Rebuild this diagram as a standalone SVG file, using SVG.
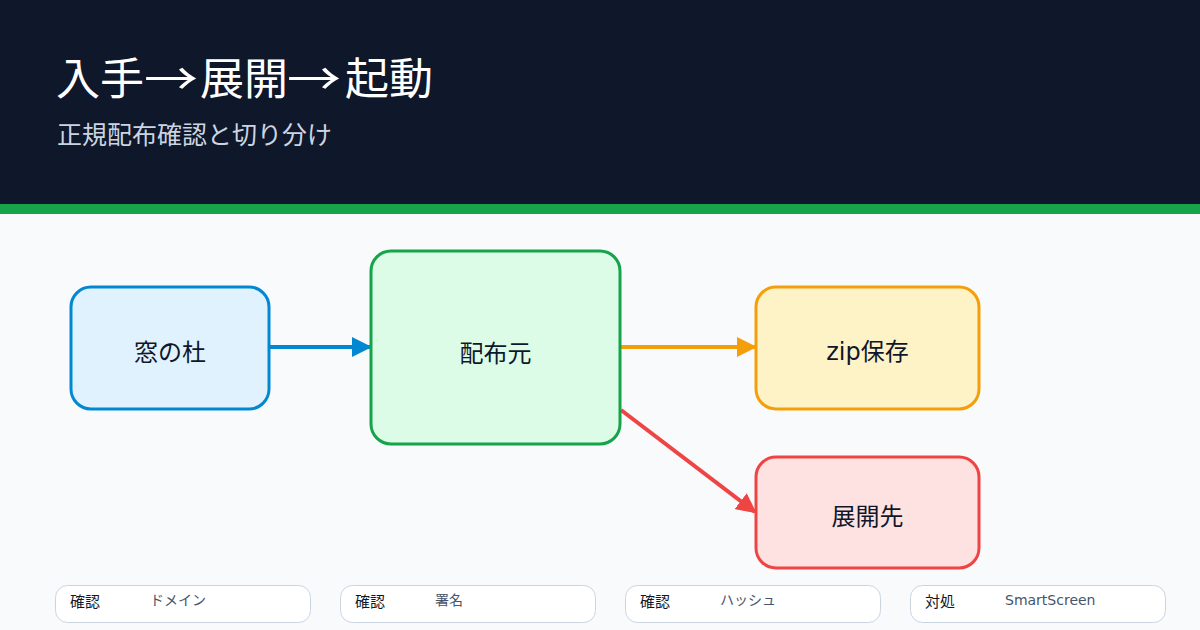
<svg xmlns="http://www.w3.org/2000/svg" width="1200" height="630" viewBox="0 0 1200 630">
<defs>
<style>
text{font-family:"DejaVu Sans","Noto Sans CJK JP",sans-serif}
.tt{font-family:"Noto Sans CJK JP",sans-serif;font-size:44px;fill:#ffffff}
.nt{font-size:24px;fill:#0f172a;text-anchor:middle;dominant-baseline:central}
.pill{fill:#ffffff;stroke:#cbd5e1;stroke-width:1}
.pk{font-size:15px;fill:#0f172a}
.pv{font-size:14px;fill:#475569}
.c{fill:none;stroke-width:4}
</style>
<marker id="mb" viewBox="0 0 10 10" refX="9" refY="5" markerWidth="5" markerHeight="5" orient="auto" markerUnits="strokeWidth"><path d="M0,0L10,5L0,10z" fill="#0288d1"/></marker>
<marker id="mo" viewBox="0 0 10 10" refX="9" refY="5" markerWidth="5" markerHeight="5" orient="auto" markerUnits="strokeWidth"><path d="M0,0L10,5L0,10z" fill="#f59e0b"/></marker>
<marker id="mr" viewBox="0 0 10 10" refX="9" refY="5" markerWidth="5" markerHeight="5" orient="auto" markerUnits="strokeWidth"><path d="M0,0L10,5L0,10z" fill="#ef4444"/></marker>
</defs>
<rect width="1200" height="630" fill="#f8fafc"/>
<rect width="1200" height="204" fill="#0f172a"/>
<rect y="204" width="1200" height="10" fill="#16a34a"/>
<g id="title">
<text class="tt" x="56" y="95">入手</text>
<text class="tt" x="144" y="95" textLength="54" lengthAdjust="spacingAndGlyphs">→</text>
<text class="tt" x="200" y="95">展開</text>
<text class="tt" x="287" y="95" textLength="54" lengthAdjust="spacingAndGlyphs">→</text>
<text class="tt" x="345" y="95">起動</text>
</g>
<text x="57" y="144" font-size="25" fill="#cbd5e1">正規配布確認と切り分け</text>
<g id="connectors">
<line class="c" x1="270" y1="347" x2="370" y2="347" stroke="#0288d1" marker-end="url(#mb)"/>
<line class="c" x1="621" y1="347" x2="755" y2="347" stroke="#f59e0b" marker-end="url(#mo)"/>
<line class="c" x1="621" y1="410" x2="755" y2="512" stroke="#ef4444" marker-end="url(#mr)"/>
</g>
<g id="n1"><rect x="71" y="287" width="198" height="122" rx="20" fill="#e0f2fe" stroke="#0288d1" stroke-width="3"/><text class="nt" x="170" y="353">窓の杜</text></g>
<g id="n2"><rect x="371" y="251" width="249" height="193" rx="20" fill="#dcfce7" stroke="#16a34a" stroke-width="3"/><text class="nt" x="495.5" y="354">配布元</text></g>
<g id="n3"><rect x="756" y="287" width="223" height="122" rx="20" fill="#fef3c7" stroke="#f59e0b" stroke-width="3"/><text class="nt" x="867.5" y="352">zip保存</text></g>
<g id="n4"><rect x="756" y="457" width="223" height="111" rx="20" fill="#fee2e2" stroke="#ef4444" stroke-width="3"/><text class="nt" x="867.5" y="517">展開先</text></g>
<g id="p1"><rect class="pill" x="55.5" y="585.5" width="255" height="37" rx="12"/><text class="pk" x="70" y="607">確認</text><text class="pv" x="150" y="605">ドメイン</text></g>
<g id="p2"><rect class="pill" x="340.5" y="585.5" width="255" height="37" rx="12"/><text class="pk" x="355" y="607">確認</text><text class="pv" x="435" y="605">署名</text></g>
<g id="p3"><rect class="pill" x="625.5" y="585.5" width="255" height="37" rx="12"/><text class="pk" x="640" y="607">確認</text><text class="pv" x="720" y="605">ハッシュ</text></g>
<g id="p4"><rect class="pill" x="910.5" y="585.5" width="255" height="37" rx="12"/><text class="pk" x="925" y="607">対処</text><text class="pv" x="1005" y="605">SmartScreen</text></g>
</svg>
